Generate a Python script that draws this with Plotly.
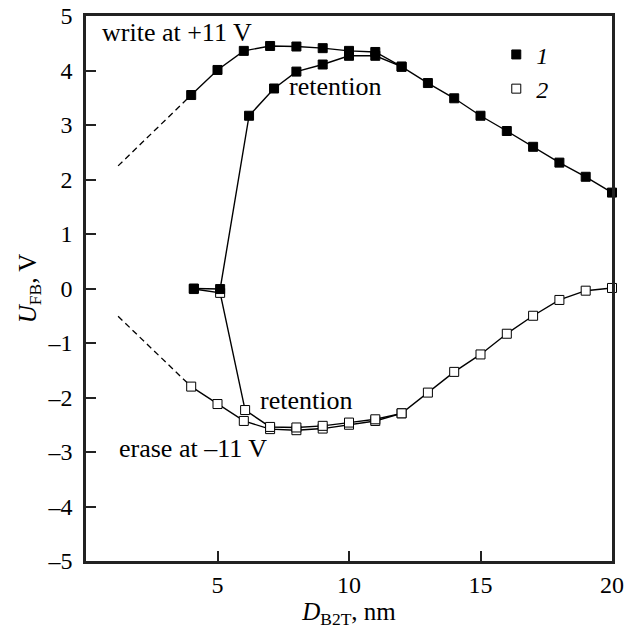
import plotly.graph_objects as go

# Curve 1 (filled): write at +11 V
write_x = [4, 5, 6, 7, 8, 9, 10, 11, 12, 13, 14, 15, 16, 17, 18, 19, 20]
write_y = [3.55, 4.01, 4.36, 4.45, 4.44, 4.41, 4.36, 4.34, 4.07, 3.77, 3.49, 3.17, 2.89, 2.60, 2.31, 2.05, 1.76]
# Curve 1 (filled): retention
ret1_x = [4.1, 5.1, 6.2, 7.15, 8, 9, 10, 11, 12]
ret1_y = [0.0, -0.01, 3.17, 3.67, 3.98, 4.11, 4.27, 4.27, 4.07]
# Curve 2 (open): erase at -11 V
erase_x = [4, 5, 6, 7, 8, 9, 10, 11, 12, 13, 14, 15, 16, 17, 18, 19, 20]
erase_y = [-1.80, -2.12, -2.43, -2.58, -2.60, -2.57, -2.50, -2.43, -2.29, -1.91, -1.53, -1.21, -0.83, -0.50, -0.21, -0.04, 0.01]
# Curve 2 (open): retention
ret2_x = [4.1, 5.1, 6.05, 7, 8, 9, 10, 11, 12]
ret2_y = [-0.01, -0.08, -2.23, -2.54, -2.55, -2.52, -2.46, -2.40, -2.29]
# Dashed extrapolations
dash_w_x = [1.22, 4]
dash_w_y = [2.25, 3.55]
dash_e_x = [1.22, 4]
dash_e_y = [-0.51, -1.80]

y_ticks = [-5, -4, -3, -2, -1, 0, 1, 2, 3, 4, 5]
y_labels = ["\u20135", "\u20134", "\u20133", "\u20132", "\u20131", "0", "1", "2", "3", "4", "5"]
x_ticks = [5, 10, 15, 20]
x_labels = ["5", "10", "15", "20"]

FONT = "Times New Roman, Liberation Serif, DejaVu Serif, serif"
LINE = dict(color="black", width=1.4)
filled = dict(symbol="square", size=9, color="black", line=dict(color="black", width=1))
opened = dict(symbol="square", size=9, color="white", line=dict(color="black", width=1))

fig = go.Figure()
fig.add_trace(go.Scatter(x=dash_w_x, y=dash_w_y, mode="lines",
                         line=dict(color="black", width=1.3, dash="6px,4px"), showlegend=False))
fig.add_trace(go.Scatter(x=dash_e_x, y=dash_e_y, mode="lines",
                         line=dict(color="black", width=1.3, dash="6px,4px"), showlegend=False))
fig.add_trace(go.Scatter(x=erase_x, y=erase_y, mode="lines+markers", line=LINE, marker=opened,
                         showlegend=False, cliponaxis=False))
fig.add_trace(go.Scatter(x=ret2_x, y=ret2_y, mode="lines+markers", line=LINE, marker=opened,
                         showlegend=False, cliponaxis=False))
fig.add_trace(go.Scatter(x=write_x, y=write_y, mode="lines+markers", line=LINE, marker=filled,
                         showlegend=False, cliponaxis=False))
fig.add_trace(go.Scatter(x=ret1_x, y=ret1_y, mode="lines+markers", line=LINE, marker=filled,
                         showlegend=False, cliponaxis=False))
# legend-only entries
fig.add_trace(go.Scatter(x=[None], y=[None], mode="markers", marker=filled, name="<i>1</i>"))
fig.add_trace(go.Scatter(x=[None], y=[None], mode="markers", marker=opened, name="<i>2</i>"))

ann_font = dict(family=FONT, size=26, color="black")
fig.add_annotation(x=0.53, y=4.69, text="write at +11 V", showarrow=False, xanchor="left", font=ann_font)
fig.add_annotation(x=7.65, y=3.70, text="retention", showarrow=False, xanchor="left", font=ann_font)
fig.add_annotation(x=6.55, y=-2.05, text="retention", showarrow=False, xanchor="left", font=ann_font)
fig.add_annotation(x=1.19, y=-2.93, text="erase at \u201311 V", showarrow=False, xanchor="left", font=ann_font)

axis_common = dict(showgrid=False, zeroline=False, showline=True, linecolor="#222", linewidth=2.5,
                   mirror=True, ticks="inside", ticklen=10, tickwidth=2, tickcolor="#222",
                   automargin=False,
                   tickfont=dict(family=FONT, size=24, color="black"))
fig.update_xaxes(range=[0, 20], tickvals=x_ticks, ticktext=x_labels,
                 title=dict(text="<i>D</i><sub>B2T</sub>, nm", font=dict(family=FONT, size=25, color="black"),
                            standoff=0),
                 **axis_common)
fig.update_yaxes(range=[-5, 5], tickvals=y_ticks, ticktext=y_labels, ticklabelstandoff=6,
                 title=dict(text="<i>U</i><sub>FB</sub>, V", font=dict(family=FONT, size=25, color="black"),
                            standoff=4),
                 **axis_common)
fig.update_layout(width=626, height=633, margin=dict(l=86, r=14, t=16, b=72, autoexpand=False),
                  plot_bgcolor="white", paper_bgcolor="white",
                  font=dict(family=FONT, color="black"),
                  legend=dict(x=0.78, y=0.97, xanchor="left", yanchor="top",
                              bgcolor="rgba(0,0,0,0)", font=dict(family=FONT, size=24, color="black")))
fig.write_html("out.html", config={"displayModeBar": False},
               post_script="document.body.style.margin='0';")
